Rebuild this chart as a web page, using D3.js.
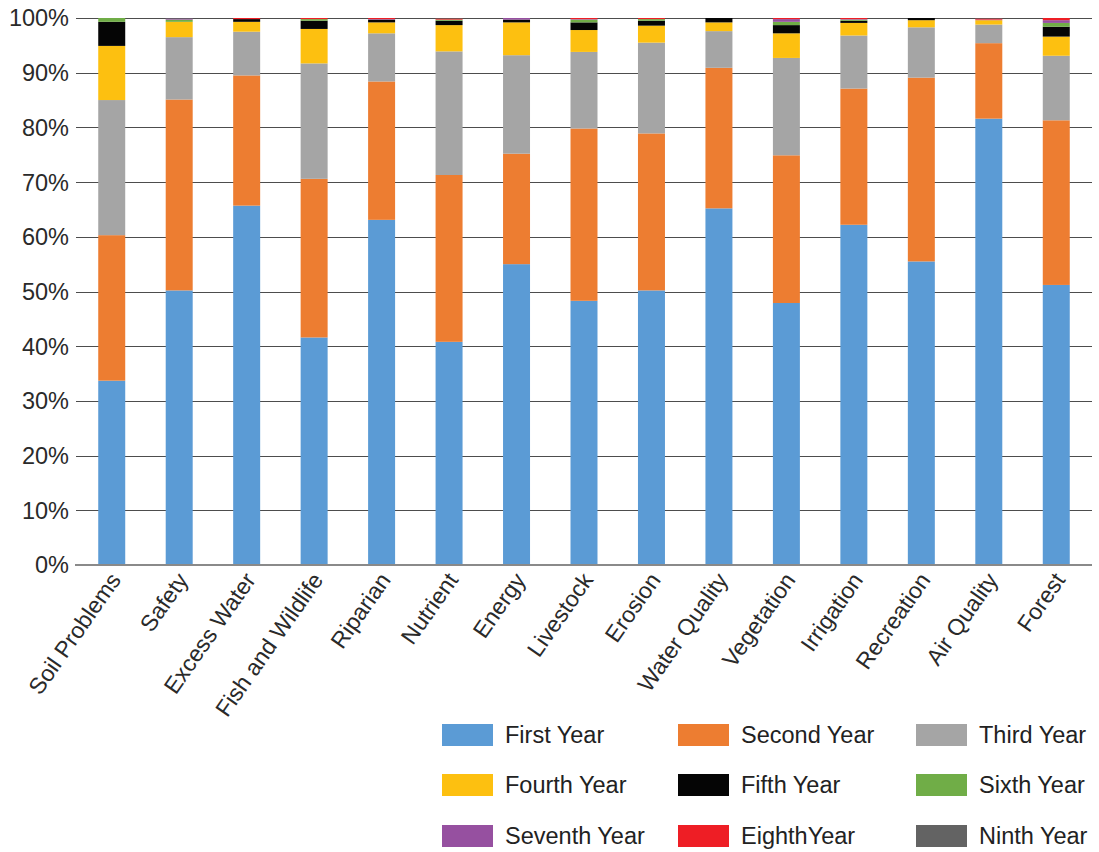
<!DOCTYPE html>
<html>
<head>
<meta charset="utf-8">
<script src="https://cdn.jsdelivr.net/npm/d3@7"></script>
<style>
  html, body { margin: 0; padding: 0; background: #fff; }
  svg { display: block; font-family: "Liberation Sans", Arial, sans-serif; }
</style>
</head>
<body>
<svg id="chart" width="1099" height="852"></svg>
<script>
const categories = ["Soil Problems","Safety","Excess Water","Fish and Wildlife","Riparian","Nutrient","Energy","Livestock","Erosion","Water Quality","Vegetation","Irrigation","Recreation","Air Quality","Forest"];
const seriesNames = ["First Year","Second Year","Third Year","Fourth Year","Fifth Year","Sixth Year","Seventh Year","EighthYear","Ninth Year"];
const seriesColors = ["#5B9BD5","#ED7D31","#A5A5A5","#FDC010","#050505","#70AD47","#9650A0","#EE1E25","#636363"];

const firstYear   = [33.7, 50.2, 65.7, 41.6, 63.1, 40.8, 55.0, 48.3, 50.2, 65.2, 47.9, 62.2, 55.5, 81.6, 51.2];
const secondYear  = [26.6, 34.9, 23.8, 29.0, 25.3, 30.5, 20.2, 31.5, 28.7, 25.7, 27.0, 24.9, 33.6, 13.8, 30.1];
const thirdYear   = [24.7, 11.4,  8.0, 21.1,  8.8, 22.6, 18.0, 14.0, 16.6,  6.7, 17.8,  9.7,  9.2,  3.4, 11.8];
const fourthYear  = [ 9.9,  2.8,  1.8,  6.3,  2.0,  4.8,  6.0,  4.0,  3.1,  1.6,  4.5,  2.3,  1.3,  0.8,  3.5];
const fifthYear   = [ 4.4,  0.0,  0.5,  1.5,  0.5,  0.8,  0.5,  1.4,  0.9,  0.8,  1.5,  0.4,  0.4,  0.0,  1.8];
const sixthYear   = [ 0.7,  0.4,  0.0,  0.3,  0.0,  0.2,  0.0,  0.5,  0.3,  0.0,  0.6,  0.2,  0.0,  0.0,  0.7];
const seventhYear = [ 0.0,  0.2,  0.0,  0.0,  0.1,  0.0,  0.3,  0.1,  0.0,  0.0,  0.5,  0.1,  0.0,  0.1,  0.5];
const eighthYear  = [ 0.0,  0.0,  0.2,  0.2,  0.2,  0.2,  0.0,  0.2,  0.2,  0.0,  0.2,  0.2,  0.0,  0.2,  0.4];
const ninthYear   = [ 0.0,  0.1,  0.0,  0.0,  0.0,  0.1,  0.0,  0.0,  0.0,  0.0,  0.0,  0.0,  0.0,  0.1,  0.0];
const yTicks = [0, 10, 20, 30, 40, 50, 60, 70, 80, 90, 100];

const seriesValues = [firstYear, secondYear, thirdYear, fourthYear, fifthYear, sixthYear, seventhYear, eighthYear, ninthYear];

// build table, normalised to 100%
const table = categories.map((c, i) => {
  const row = { category: c };
  let total = 0;
  seriesValues.forEach(s => total += s[i]);
  seriesNames.forEach((n, k) => row[n] = seriesValues[k][i] / total * 100);
  return row;
});
const stacked = d3.stack().keys(seriesNames)(table);

const svg = d3.select("#chart");
const x = d3.scaleBand().domain(categories).range([78, 1090]).paddingInner(0.6).paddingOuter(0.3);
const y = d3.scaleLinear().domain([0, 100]).range([565, 18]);
const color = d3.scaleOrdinal().domain(seriesNames).range(seriesColors);

// gridlines
svg.append("g").selectAll("line").data(yTicks.filter(t => t > 0)).join("line")
  .attr("x1", 76).attr("x2", 1092)
  .attr("y1", d => Math.round(y(d)) + 0.5).attr("y2", d => Math.round(y(d)) + 0.5)
  .attr("stroke", "#4d4d4d").attr("stroke-width", 1.2);

// bars
svg.append("g").selectAll("g").data(stacked).join("g")
  .attr("fill", d => color(d.key))
  .selectAll("rect").data(d => d).join("rect")
  .attr("x", d => x(d.data.category))
  .attr("width", x.bandwidth())
  .attr("y", d => y(d[1]))
  .attr("height", d => Math.max(0, y(d[0]) - y(d[1])));

// baseline axis
svg.append("line").attr("x1", 75).attr("x2", 1092).attr("y1", 565).attr("y2", 565)
  .attr("stroke", "#8a8a8a").attr("stroke-width", 2);

// y tick labels
svg.append("g").selectAll("text").data(yTicks).join("text")
  .attr("x", 69).attr("y", d => y(d)).attr("dy", "0.36em")
  .attr("text-anchor", "end").attr("font-size", 23.5).attr("fill", "#2a2a2a")
  .text(d => d + "%");

// x labels
svg.append("g").selectAll("text").data(categories).join("text")
  .attr("transform", d => `translate(${x(d) + x.bandwidth() / 2 + 10},${580}) rotate(-55)`)
  .attr("text-anchor", "end").attr("font-size", 23).attr("fill", "#2a2a2a")
  .text(d => d);

// legend
const legendCols = [442, 678, 916];
const legendRows = [724, 774, 825];
const lg = svg.append("g").selectAll("g").data(seriesNames).join("g")
  .attr("transform", (d, i) => `translate(${legendCols[i % 3]},${legendRows[Math.floor(i / 3)]})`);
lg.append("rect").attr("width", 51).attr("height", 22).attr("fill", d => color(d));
lg.append("text").attr("x", 63).attr("y", 11).attr("dy", "0.34em")
  .attr("font-size", 23.5).attr("fill", "#222").text(d => d);
</script>
</body>
</html>
